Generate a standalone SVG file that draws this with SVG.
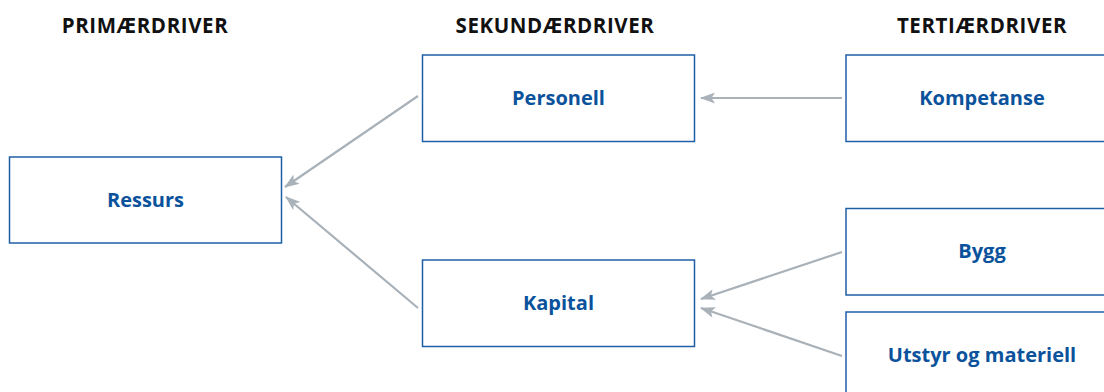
<svg xmlns="http://www.w3.org/2000/svg" width="1104" height="392" viewBox="0 0 1104 392">
<defs>
<style>
.box{fill:#fff;stroke:#1f5fa6;stroke-width:1.5}
.lbl{font-family:"Open Sans","Liberation Sans",sans-serif;font-weight:700;font-size:20px;fill:#0b529c;text-anchor:middle}
.hdr{font-family:"Open Sans","Liberation Sans",sans-serif;font-weight:700;font-size:20.5px;letter-spacing:0.6px;fill:#111;text-anchor:middle}
.con{stroke:#a9b1b9;stroke-width:2.2;fill:none;marker-end:url(#ah)}
</style>
<marker id="ah" viewBox="0 0 15 11" refX="14" refY="5.5" markerWidth="15" markerHeight="11" markerUnits="userSpaceOnUse" orient="auto">
<path d="M0,0 L15,5.5 L0,11 L3.5,5.5 Z" fill="#a9b1b9"/>
</marker>
</defs>
<rect width="1104" height="392" fill="#fff"/>
<g id="headers">
<text class="hdr" x="145" y="33">PRIMÆRDRIVER</text>
<text class="hdr" x="555" y="33">SEKUNDÆRDRIVER</text>
<text class="hdr" x="982" y="33">TERTIÆRDRIVER</text>
</g>
<g id="connectors">
<line class="con" x1="418" y1="96" x2="285" y2="187"/>
<line class="con" x1="418" y1="308" x2="286" y2="197"/>
<line class="con" x1="842" y1="98" x2="701" y2="98"/>
<line class="con" x1="842" y1="252" x2="701" y2="299"/>
<line class="con" x1="842" y1="356" x2="701" y2="308"/>
</g>
<g id="ressurs"><rect class="box" x="9.5" y="157" width="272" height="86"/><text class="lbl" x="145.5" y="206.5">Ressurs</text></g>
<g id="personell"><rect class="box" x="422.5" y="55" width="272" height="86.5"/><text class="lbl" x="558.5" y="105">Personell</text></g>
<g id="kapital"><rect class="box" x="422.5" y="260" width="272" height="86.5"/><text class="lbl" x="558.5" y="310">Kapital</text></g>
<g id="kompetanse"><rect class="box" x="846" y="55" width="272" height="86.5"/><text class="lbl" x="982" y="105">Kompetanse</text></g>
<g id="bygg"><rect class="box" x="846" y="208.5" width="272" height="86.5"/><text class="lbl" x="982" y="258">Bygg</text></g>
<g id="utstyr"><rect class="box" x="846" y="312" width="272" height="86.5"/><text class="lbl" x="982" y="362">Utstyr og materiell</text></g>
</svg>
